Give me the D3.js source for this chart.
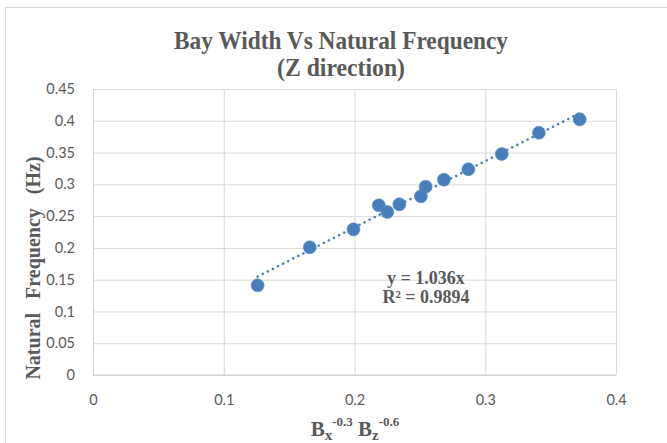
<!DOCTYPE html>
<html>
<head>
<meta charset="utf-8">
<script src="https://cdn.jsdelivr.net/npm/d3@7"></script>
<style>
  html, body { margin: 0; padding: 0; background: #fff; }
  svg { display: block; }
</style>
</head>
<body>
<svg id="chart" width="667" height="443"></svg>
<script>
// ---- data ----
const xValues = [0.1259, 0.1658, 0.1992, 0.2186, 0.2251, 0.2343, 0.2508, 0.2544, 0.2684, 0.2871, 0.3126, 0.3410, 0.3722];
const yValues = [0.1411, 0.2009, 0.2292, 0.2670, 0.2565, 0.2686, 0.2812, 0.2963, 0.3073, 0.3237, 0.3477, 0.3812, 0.4023];
const xTicks = [0, 0.1, 0.2, 0.3, 0.4];
const yTicks = [0, 0.05, 0.1, 0.15, 0.2, 0.25, 0.3, 0.35, 0.4, 0.45];
const titleLines = ["Bay Width Vs Natural Frequency", "(Z direction)"];
const yTitleWords = ["Natural", "Frequency", "(Hz)"];
const equationLines = ["y = 1.036x", "R\u00B2 = 0.9894"];

const svg = d3.select("#chart");
const W = 667, H = 443;
const plot = { left: 93, right: 616, top: 89, bottom: 375 };
const textColor = "#595959";
const gridColor = "#d9d9d9";
const blue = "#4a7ebb";

// chart area border
svg.append("rect").attr("x", 5.5).attr("y", 7.5).attr("width", W + 10).attr("height", H + 10)
  .attr("fill", "#fff").attr("stroke", "#d9d9d9").attr("stroke-width", 1.2);

const x = d3.scaleLinear().domain([0, 0.4]).range([plot.left, plot.right]);
const y = d3.scaleLinear().domain([0, 0.45]).range([plot.bottom, plot.top]);

// gridlines
const gx = svg.append("g").attr("transform", `translate(0,${plot.bottom})`)
  .call(d3.axisBottom(x).tickValues(xTicks).tickSize(-(plot.bottom - plot.top)).tickFormat(""));
const gy = svg.append("g").attr("transform", `translate(${plot.left},0)`)
  .call(d3.axisLeft(y).tickValues(yTicks).tickSize(-(plot.right - plot.left)).tickFormat(""));
[gx, gy].forEach(g => {
  g.select(".domain").remove();
  g.selectAll(".tick line").attr("stroke", gridColor).attr("stroke-width", 1);
});
// x-axis base line
svg.append("line").attr("x1", plot.left).attr("x2", plot.right)
  .attr("y1", y(0)).attr("y2", y(0)).attr("stroke", "#d0d0d0").attr("stroke-width", 1.2);

// tick labels
const labelFont = "Lato, 'Open Sans', sans-serif";
const xl = svg.append("g").attr("transform", `translate(0,${plot.bottom})`)
  .call(d3.axisBottom(x).tickValues(xTicks).tickSize(0).tickPadding(20).tickFormat(d3.format("")));
const yl = svg.append("g").attr("transform", `translate(${plot.left},0)`)
  .call(d3.axisLeft(y).tickValues(yTicks).tickSize(0).tickPadding(18).tickFormat(d3.format("")));
[xl, yl].forEach(g => {
  g.select(".domain").remove();
  g.selectAll("text").attr("fill", textColor).attr("font-family", labelFont).attr("font-size", 14.5);
});

// trendline (least squares fit of the data, drawn over the data range)
const mx = d3.mean(xValues), my = d3.mean(yValues);
let sxy = 0, sxx = 0;
xValues.forEach((v, i) => { sxy += (v - mx) * (yValues[i] - my); sxx += (v - mx) * (v - mx); });
const slope = sxy / sxx, intercept = my - slope * mx;
const xExt = d3.extent(xValues);
svg.append("line")
  .attr("x1", x(xExt[0])).attr("y1", y(slope * xExt[0] + intercept))
  .attr("x2", x(xExt[1])).attr("y2", y(slope * xExt[1] + intercept))
  .attr("stroke", blue).attr("stroke-width", 2.6)
  .attr("stroke-linecap", "round").attr("stroke-dasharray", "0.01 5.7");

// markers
svg.append("g").selectAll("circle").data(xValues).join("circle")
  .attr("cx", d => x(d)).attr("cy", (d, i) => y(yValues[i]))
  .attr("r", 6.5).attr("fill", blue).attr("stroke", "#5b8ccc").attr("stroke-width", 0.6);

// title
const serif = "'Liberation Serif', 'Times New Roman', serif";
const titleWidths = [334, 128];
svg.append("g").selectAll("text").data(titleLines).join("text")
  .attr("x", 341).attr("y", (d, i) => 49 + i * 27)
  .attr("text-anchor", "middle").attr("font-family", serif).attr("font-weight", "bold")
  .attr("font-size", 25).attr("fill", textColor)
  .attr("textLength", (d, i) => titleWidths[i]).attr("lengthAdjust", "spacingAndGlyphs")
  .text(d => d);

// equation
svg.append("g").selectAll("text").data(equationLines).join("text")
  .attr("x", 426).attr("y", (d, i) => 284 + i * 19)
  .attr("text-anchor", "middle").attr("font-family", serif).attr("font-weight", "bold")
  .attr("font-size", 18).attr("fill", textColor).text(d => d);

// y-axis title
const yt = svg.append("text")
  .attr("transform", "translate(40,268) rotate(-90)")
  .attr("text-anchor", "middle").attr("font-family", serif).attr("font-weight", "bold")
  .attr("font-size", 20).attr("fill", textColor);
yTitleWords.forEach((w, i) => {
  yt.append("tspan").attr("dx", i === 0 ? 0 : 9).text((i === 0 ? "" : " ") + w);
});

// x-axis title: B_x^-0.3 B_z^-0.6
const xt = svg.append("text").attr("x", 355).attr("y", 436)
  .attr("text-anchor", "middle").attr("font-family", serif).attr("font-weight", "bold")
  .attr("font-size", 21).attr("fill", textColor);
xt.append("tspan").text("B");
xt.append("tspan").attr("font-size", 15).attr("dy", 4).text("x");
xt.append("tspan").attr("font-size", 13).attr("dy", -14).text("-0.3");
xt.append("tspan").attr("dy", 10).text(" B");
xt.append("tspan").attr("font-size", 15).attr("dy", 4).text("z");
xt.append("tspan").attr("font-size", 13).attr("dy", -14).text("-0.6");
</script>
</body>
</html>
